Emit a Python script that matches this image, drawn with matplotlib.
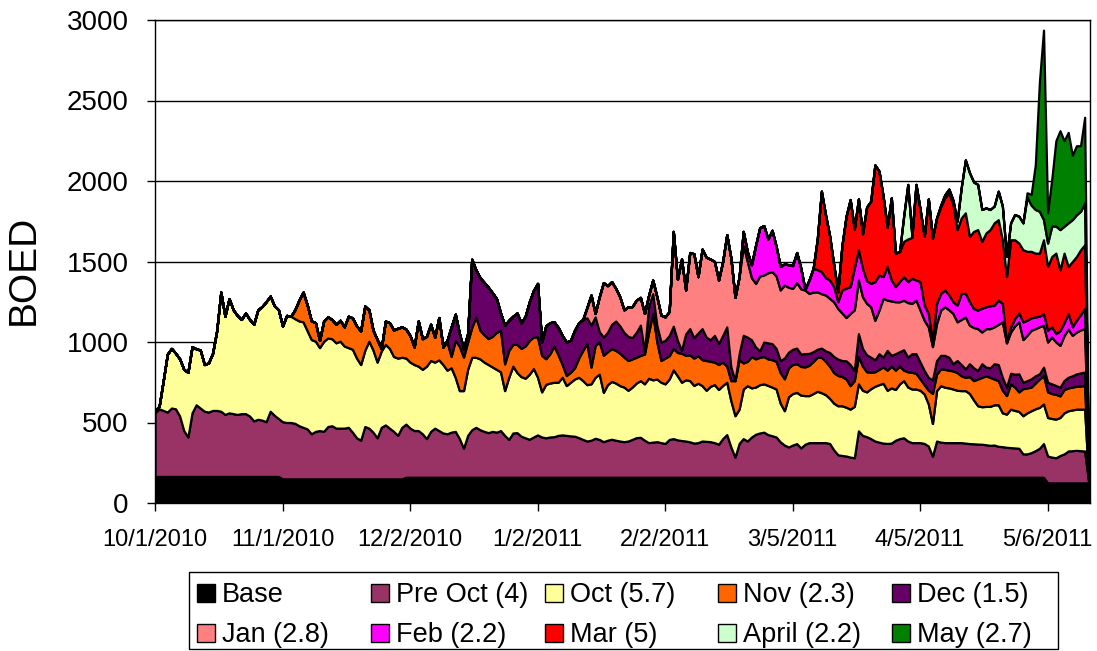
import numpy as np
import matplotlib.pyplot as plt
from matplotlib.patches import Rectangle

plt.rcParams['font.family'] = ['Liberation Sans', 'DejaVu Sans']

# daily points from 10/1/2010, one per calendar day
n_days = 228
tick_days = [0, 31, 62, 93, 124, 155, 186, 217]
tick_labels = ['10/1/2010', '11/1/2010', '12/2/2010', '1/2/2011',
               '2/2/2011', '3/5/2011', '4/5/2011', '5/6/2011']

names = ['Base', 'Pre Oct (4)', 'Oct (5.7)', 'Nov (2.3)', 'Dec (1.5)',
         'Jan (2.8)', 'Feb (2.2)', 'Mar (5)', 'April (2.2)', 'May (2.7)']
colors = ['#000000', '#993366', '#FFFF99', '#FF6600', '#660066',
          '#FF8080', '#FF00FF', '#FF0000', '#CCFFCC', '#008000']

base = [165] * 31 + [150] * 30 + [160] * 156 + [125] * 11

pre_oct = [395, 420, 410, 400, 425, 420, 375, 285, 245, 395, 445, 425, 405, 400, 410, 410,
           405, 385, 395, 390, 385, 390, 390, 375, 345, 355, 350, 340, 405, 380, 360,
           355, 350, 350, 345, 330, 320, 310, 280, 295, 300, 295, 325, 330, 315, 315, 315,
           320, 290, 255, 240, 325, 315, 290, 255, 320, 335, 315, 295, 270, 320,
           330, 305, 290, 290, 270, 240, 285, 305, 290, 275, 270, 280, 285, 240, 180, 260,
           295, 310, 295, 285, 277, 285, 280, 290, 260, 235, 275, 277, 255, 245,
           236, 250, 263, 250, 245, 250, 252, 260, 263, 260, 257, 255, 246, 235, 225, 230,
           242, 235, 221, 230,
           236, 230, 225, 221, 225, 235, 246, 248, 230, 215, 218, 221, 215, 210, 235, 240,
           232, 228, 225, 220,
           212, 215, 225, 223, 221, 215, 205, 240, 265, 188, 125, 210, 240, 225, 250, 267,
           275, 280, 265, 258,
           250, 220, 200, 188, 200, 209, 182, 205, 215, 215, 215, 215, 215, 210, 170, 140,
           135, 132, 125, 121,
           288, 260, 252, 240, 225, 218, 212, 210, 212, 230, 240, 245, 225, 215, 215, 215,
           210, 194, 130, 225,
           218, 215, 215, 215, 215, 215, 212, 209, 208, 206, 205, 202, 198, 200, 192, 190,
           186, 184, 182, 180,
           145, 145, 153, 165, 180, 209,
           167, 160, 156, 170, 180, 198, 200, 202, 200, 198]

oct_ = [15, 15, 185, 360, 370, 345, 355, 380, 402, 410, 348, 360, 290, 305, 355, 495,
        740, 610, 710, 645, 615, 585, 625, 600, 600, 680, 705, 745, 715, 680, 675,
        595, 665, 660, 650, 651, 655, 610, 585, 560, 515, 559, 550, 540, 530, 540, 510,
        495, 515, 495, 470, 473, 540, 510, 470, 474, 500, 495, 465, 480, 435,
        410, 410, 410, 400, 400, 450, 440, 410, 439, 425, 395, 400, 335, 298, 358, 410,
        450, 435, 440, 430, 423, 400, 390, 365, 278, 386, 415, 373, 370, 370,
        404, 425, 358, 280, 332, 335, 338, 330, 358, 309, 333, 355, 375, 365, 350, 350,
        379, 405, 306, 345,
        359, 355, 344, 339, 315, 325, 339, 352, 350, 400, 387, 389, 375, 370, 375, 427,
        398, 362, 380, 380,
        358, 369, 344, 317, 344, 360, 340, 330, 325, 287, 257, 213, 308, 344, 305, 293,
        300, 300, 305, 302,
        298, 240, 213, 312, 320, 318, 328, 302, 292, 305, 319, 310, 298, 280, 290, 304,
        309, 303, 298, 319,
        292, 280, 278, 310, 340, 357, 372, 330, 343, 315, 340, 355, 335, 333, 333, 325,
        307, 261, 204, 313,
        351, 344, 340, 333, 325, 323, 326, 311, 272, 238, 233, 238, 242, 250, 258, 210,
        206, 239, 233, 229,
        237, 255, 260, 260, 254, 246,
        239, 240, 240, 236, 255, 250, 253, 256, 258, 260]

nov_start = 33
nov = [0, 55, 129, 185, 160, 116, 115, 45, 127, 131, 120, 115, 130, 119, 195, 195,
       200, 209, 275, 195, 123, 140, 14, 145, 160, 165, 185, 189,
       180, 165, 109, 281, 191, 185, 225, 155, 263, 109, 175, 70, 230, 275, 208, 170,
       185, 251, 178, 170, 161, 190, 230, 258, 166, 167, 135, 175, 175, 200,
       210, 196, 250, 227, 159, 182, 225, 170, 79, 63, 62, 70, 119, 188, 254, 104,
       198, 200, 230, 205,
       203, 203, 201, 186, 185, 175, 160, 157, 185, 285, 412, 230, 135, 160, 145, 133,
       145, 180, 152, 160,
       170, 171, 161, 185, 155, 140, 155, 145, 100, 125, 218, 307, 162, 151, 195, 175,
       170, 170, 165, 170,
       172, 190, 198, 180, 180, 178, 178, 178, 188, 200, 211, 220, 207, 200, 190, 188,
       181, 175, 146, 160,
       170, 150, 125, 102, 90, 95, 101, 125, 135, 120, 110, 65, 95, 104, 97, 70,
       58, 85, 187, 102,
       104, 111, 110, 112, 110, 92, 82, 105, 120, 166, 182, 190, 180, 160, 150, 140,
       115, 157, 145, 121,
       168, 155, 147, 160, 176, 177,
       159, 155, 154, 134, 145, 142, 142, 142, 144, 146]

dec_start = 70
dec = [0, 10, 184, 163, 79, 52, 52, 424, 292, 327, 325, 319, 271, 210, 107, 240,
       187, 175, 195, 159, 185,
       240, 289, 333, 83, 204, 193, 150, 170, 180, 208, 198, 233, 220, 192, 161, 261,
       177, 65, 113, 120,
       152, 182, 170, 154, 150, 132, 155, 188, 15, 160, 123, 104, 115, 110, 125, 138,
       75, 18, 133, 163,
       127, 141, 193, 145, 134, 166, 130, 165, 244, 84, 0, 37, 172, 150, 104, 74,
       40, 90, 100, 100,
       80, 75, 129, 97, 95, 97, 77, 83, 74, 60, 50, 57, 65, 85, 100, 102,
       100, 113, 131, 63,
       142, 110, 105, 94, 74, 97, 61, 123, 67, 102, 90, 127, 91, 115, 122, 105,
       88, 80, 84, 85,
       84, 87, 80, 45, 75, 70, 53, 80, 80, 53, 85, 54, 60, 95, 100, 80,
       52, 66, 80, 112,
       40, 45, 51, 45, 32, 52,
       60, 60, 55, 54, 56, 66, 70, 77, 81, 84]

jan_start = 104
jan = [0, 65, 187, 21, 216, 339, 290,
       265, 203, 180, 140, 184, 193, 200, 172, 237, 70, 85, 177, 167, 146, 150, 589,
       380, 567, 273, 473,
       521, 350, 494, 497, 501, 459, 395, 460, 573, 677, 517, 479, 558, 470, 386, 395,
       465, 416, 435, 447,
       450, 438, 454, 403, 378, 407, 405, 395, 373, 370, 357, 338, 347, 336, 340, 314,
       295, 269, 317, 377,
       333, 321, 320, 313, 246, 271, 365, 312, 338, 323, 310, 308, 339, 313, 333, 323,
       312, 314, 206, 230,
       281, 302, 295, 312, 240, 280, 323, 239, 250, 260, 197, 239, 243, 229, 250, 345,
       275, 256, 300, 323,
       265, 282, 302, 293, 293, 260,
       250, 291, 270, 260, 279, 299, 251, 260, 267, 270]

feb_start = 143
feb = [87, 60, 80, 236, 300, 307, 210, 257,
       184, 146, 131, 140, 142, 187, 128, 5, 83, 148, 138, 137, 108, 114, 94, 42,
       143, 183, 167, 260,
       188, 177, 140, 145, 240, 218, 135, 209, 130, 94, 125, 146, 130, 156, 125, 177,
       94, 83, 39, 125,
       104, 104, 92, 73, 104, 162, 146, 146, 118, 115, 148, 136, 142, 135, 150, 115,
       6, 32, 46, 56,
       110, 93, 77, 73, 65, 73,
       73, 63, 52, 91, 80, 97, 53, 73, 95, 125]

mar_start = 160
mar = [0,
       190, 500, 390, 275, 136, 62, 277, 446, 541, 242,
       316, 215, 459, 511, 725, 646, 500, 245, 511, 208, 187, 219, 265, 254, 594, 448,
       427, 712, 636, 531,
       538, 573, 635, 604, 469, 469, 500, 406, 479, 500, 415, 458, 473, 511, 500, 395,
       406, 541, 489, 434,
       448, 428, 413, 396, 392, 458,
       396, 437, 500, 378, 432, 292, 406, 396, 403, 396]

apr_start = 181
apr = [0,
       156, 339, 10, 0, 0, 0, 0, 0, 0,
       10, 19, 23, 26, 52, 189, 329, 396, 307, 281, 198, 156, 125, 104, 177, 209,
       125, 105, 157, 166,
       167, 337, 287, 271, 260, 125,
       145, 189, 168, 250, 167, 271, 260, 259, 239, 260]

may_start = 211
may = [0, 27, 67, 277, 803, 1177, 188, 290, 530, 614, 531, 562, 400, 429, 407, 532]


def full_series(values, start=0):
    # zero before the month's series begins, and on the last day
    out = np.zeros(n_days)
    out[start:start + len(values)] = values
    return out


days = np.arange(n_days)
layers = [np.array(base, dtype=float),
          full_series(pre_oct), full_series(oct_),
          full_series(nov, nov_start), full_series(dec, dec_start),
          full_series(jan, jan_start), full_series(feb, feb_start),
          full_series(mar, mar_start), full_series(apr, apr_start),
          full_series(may, may_start)]

fig = plt.figure(figsize=(10.97, 6.51), dpi=100)
ax = fig.add_axes([155 / 1097, 148 / 651, 935 / 1097, 483 / 651])

ax.stackplot(days, *layers, colors=colors, edgecolor='black',
             linewidth=1.6, joinstyle='round')

ax.set_xlim(0, 227.3)
ax.set_ylim(0, 3000)
ax.set_yticks(range(0, 3001, 500))
ax.set_xticks(tick_days)
ax.set_xticklabels(tick_labels)
ax.yaxis.grid(True, color='black', linewidth=1.0)
ax.set_axisbelow(True)

ax.tick_params(axis='y', direction='out', length=6, width=1, labelsize=20, pad=13)
ax.tick_params(axis='x', direction='out', length=6, width=1, labelsize=17, pad=13)
for side in ['left', 'right', 'top', 'bottom']:
    ax.spines[side].set_color('black')
    ax.spines[side].set_linewidth(1.0)

ax.set_ylabel('BOED', fontsize=28)
ax.yaxis.set_label_coords(-0.121, 0.482)

# legend laid out like the spreadsheet one: equal column pitch, two rows
W, H = 1097, 651
fig.add_artist(Rectangle((189 / W, 1 - 649 / H), 869 / W, 77 / H,
                         transform=fig.transFigure, facecolor='white',
                         edgecolor='black', linewidth=1.0))
col_x = [197, 371, 545, 718, 892]
row_top = [583.5, 623.5]
row_base = [602.5, 642.5]
for i, (name, color) in enumerate(zip(names, colors)):
    r, c = divmod(i, 5)
    fig.add_artist(Rectangle((col_x[c] / W, 1 - (row_top[r] + 18) / H), 18 / W, 18 / H,
                             transform=fig.transFigure, facecolor=color,
                             edgecolor='black', linewidth=1.0))
    fig.text((col_x[c] + 25) / W, 1 - row_base[r] / H, name, fontsize=19.5,
             ha='left', va='baseline')

fig.savefig('out.png', dpi=100)
